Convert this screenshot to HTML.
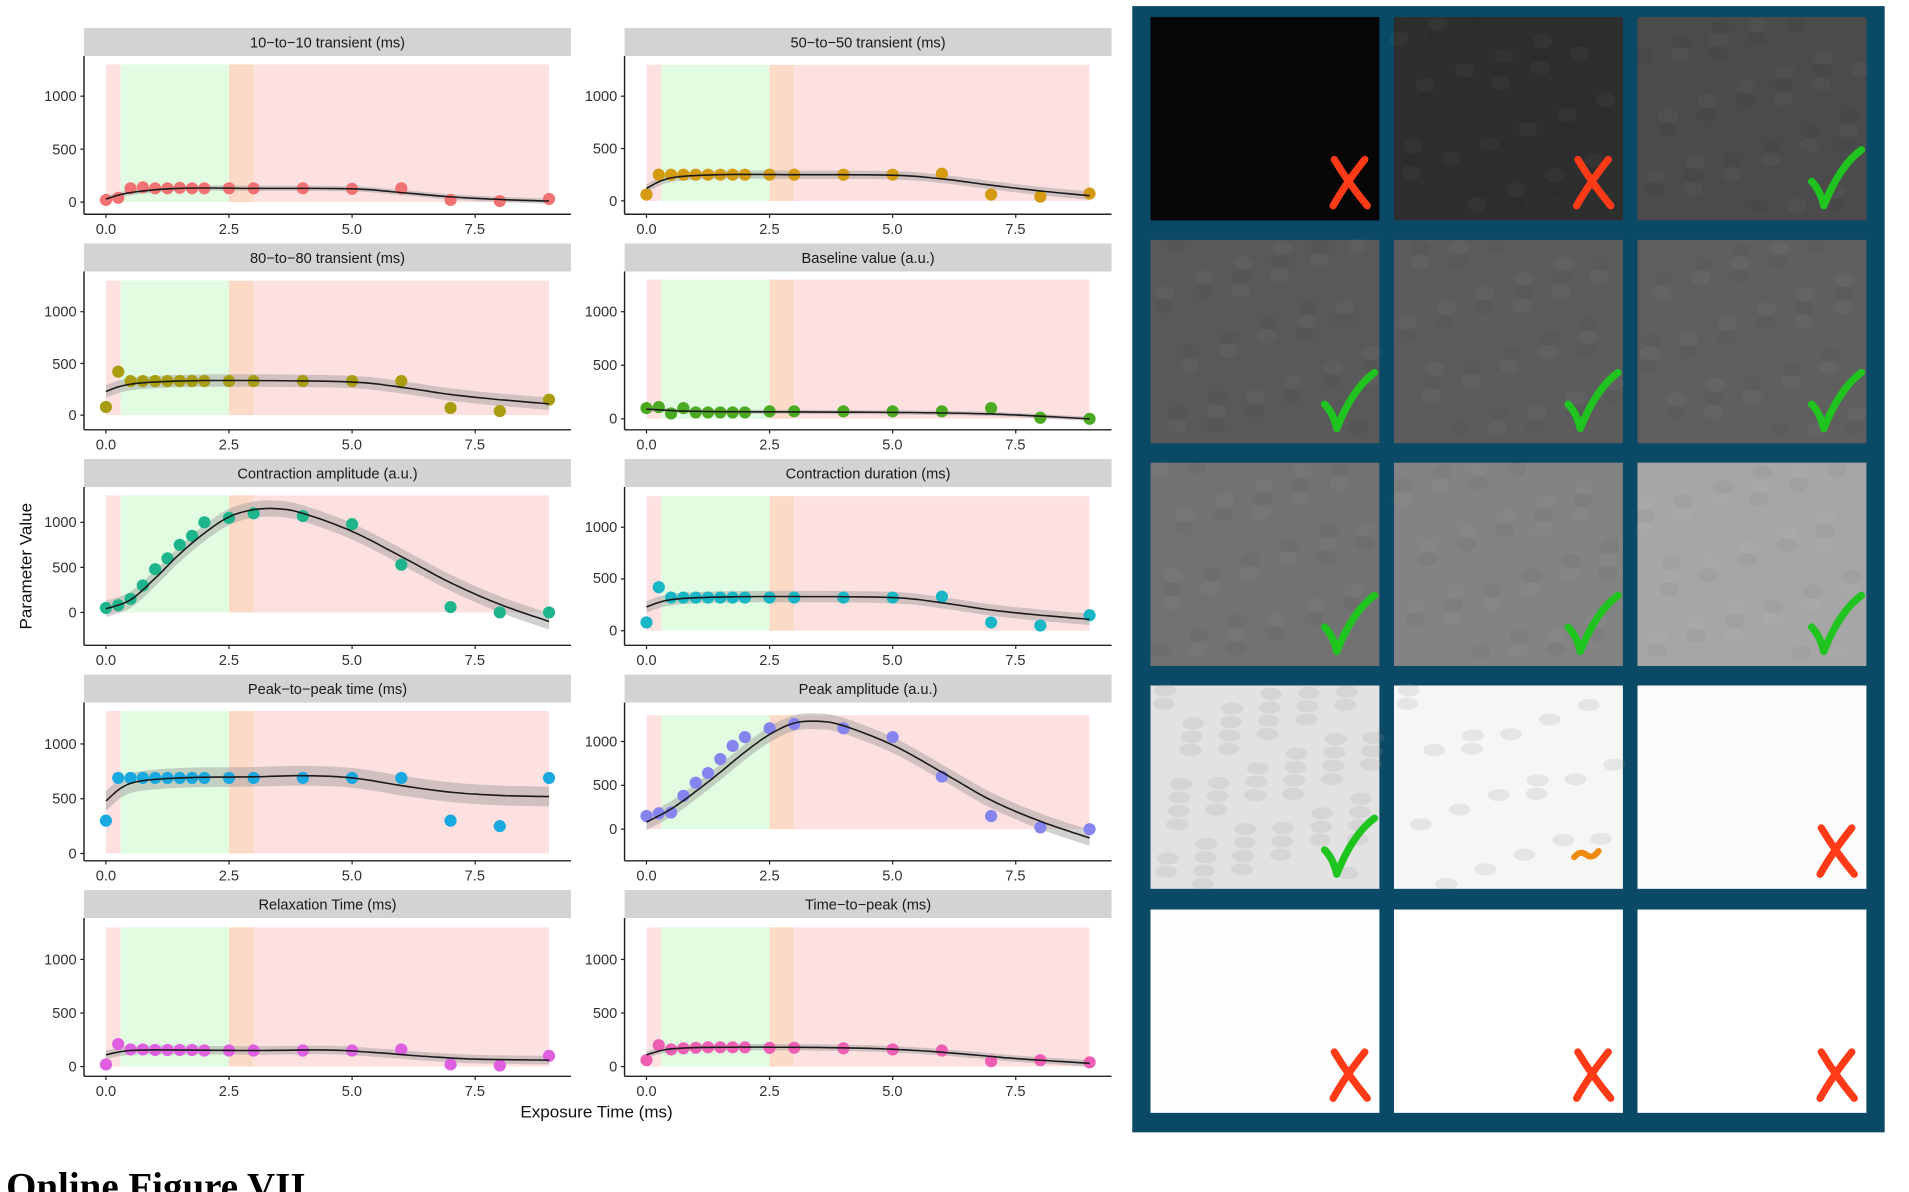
<!DOCTYPE html>
<html><head><meta charset="utf-8"><style>
html,body{margin:0;padding:0;background:#fff;}
svg{display:block;}
text{font-family:"Liberation Sans",Arial,sans-serif;}
</style></head><body>
<svg id="s" width="1909" height="1192" viewBox="0 0 1568 979" preserveAspectRatio="none" xmlns="http://www.w3.org/2000/svg">
<rect width="1568" height="979" fill="#fff"/>
<g id="plots"></g>
<g font-size="12" fill="#222">
<g text-anchor="middle" fill="#1a1a1a">
<text x="269" y="39">10−to−10 transient (ms)</text>
<text x="713" y="39">50−to−50 transient (ms)</text>
<text x="269" y="216">80−to−80 transient (ms)</text>
<text x="713" y="216">Baseline value (a.u.)</text>
<text x="269" y="393">Contraction amplitude (a.u.)</text>
<text x="713" y="393">Contraction duration (ms)</text>
<text x="269" y="570">Peak−to−peak time (ms)</text>
<text x="713" y="570">Peak amplitude (a.u.)</text>
<text x="269" y="747">Relaxation Time (ms)</text>
<text x="713" y="747">Time−to−peak (ms)</text>
</g>
<g text-anchor="end" fill="#333">
<text x="63" y="83">1000</text><text x="63" y="127">500</text><text x="63" y="170">0</text>
<text x="507" y="83">1000</text><text x="507" y="126">500</text><text x="507" y="169">0</text>
<text x="63" y="260">1000</text><text x="63" y="303">500</text><text x="63" y="345">0</text>
<text x="507" y="260">1000</text><text x="507" y="304">500</text><text x="507" y="348">0</text>
<text x="63" y="433">1000</text><text x="63" y="470">500</text><text x="63" y="507">0</text>
<text x="507" y="437">1000</text><text x="507" y="479">500</text><text x="507" y="522">0</text>
<text x="63" y="615">1000</text><text x="63" y="660">500</text><text x="63" y="705">0</text>
<text x="507" y="613">1000</text><text x="507" y="649">500</text><text x="507" y="685">0</text>
<text x="63" y="792">1000</text><text x="63" y="836">500</text><text x="63" y="880">0</text>
<text x="507" y="792">1000</text><text x="507" y="836">500</text><text x="507" y="880">0</text>
</g>
<g text-anchor="middle" fill="#333">
<text x="87" y="192">0.0</text><text x="188" y="192">2.5</text><text x="289" y="192">5.0</text><text x="390" y="192">7.5</text>
<text x="531" y="192">0.0</text><text x="632" y="192">2.5</text><text x="733" y="192">5.0</text><text x="834" y="192">7.5</text>
<text x="87" y="369">0.0</text><text x="188" y="369">2.5</text><text x="289" y="369">5.0</text><text x="390" y="369">7.5</text>
<text x="531" y="369">0.0</text><text x="632" y="369">2.5</text><text x="733" y="369">5.0</text><text x="834" y="369">7.5</text>
<text x="87" y="546">0.0</text><text x="188" y="546">2.5</text><text x="289" y="546">5.0</text><text x="390" y="546">7.5</text>
<text x="531" y="546">0.0</text><text x="632" y="546">2.5</text><text x="733" y="546">5.0</text><text x="834" y="546">7.5</text>
<text x="87" y="723">0.0</text><text x="188" y="723">2.5</text><text x="289" y="723">5.0</text><text x="390" y="723">7.5</text>
<text x="531" y="723">0.0</text><text x="632" y="723">2.5</text><text x="733" y="723">5.0</text><text x="834" y="723">7.5</text>
<text x="87" y="900">0.0</text><text x="188" y="900">2.5</text><text x="289" y="900">5.0</text><text x="390" y="900">7.5</text>
<text x="531" y="900">0.0</text><text x="632" y="900">2.5</text><text x="733" y="900">5.0</text><text x="834" y="900">7.5</text>
</g>
</g>
<text x="490" y="918" font-size="14" text-anchor="middle" fill="#111">Exposure Time (ms)</text>
<text transform="translate(26,465) rotate(-90)" font-size="14" text-anchor="middle" fill="#111">Parameter Value</text>
<text x="5" y="985" font-size="32" font-weight="bold" style="font-family:'Liberation Serif',serif" fill="#000">Online Figure VII</text>
<g id="right"></g>
</svg>
<script>
var NS="http://www.w3.org/2000/svg";
function el(p,t,a){var e=document.createElementNS(NS,t);for(var k in a)e.setAttribute(k,a[k]);p.appendChild(e);return e;}
var P=document.getElementById('plots');
var X=[0,0.25,0.5,0.75,1,1.25,1.5,1.75,2,2.5,3,4,5,6,7,8,9];
var panels=[
{c:0,r:0,y0:166,k:87,col:"#f07272",v:[20,40,130,140,130,130,135,130,130,130,130,130,125,130,20,10,30],cv:[[0,30],[0.5,90],[1.5,130],[3,130],[5,125],[6,90],[7,50],[8,25],[9,10]],b:25},
{c:1,r:0,y0:165,k:86,col:"#d39a12",v:[60,250,250,250,250,250,250,250,250,250,250,250,250,260,60,40,70],cv:[[0,120],[0.5,220],[1.5,250],[3,250],[5,245],[6,210],[7,150],[8,95],[9,50]],b:40},
{c:0,r:1,y0:341,k:85,col:"#a89c10",v:[80,420,330,330,330,330,330,330,330,330,330,330,330,330,70,40,150],cv:[[0,230],[0.5,300],[1.5,330],[3,335],[5,320],[6,270],[7,200],[8,150],[9,110]],b:60},
{c:1,r:1,y0:344,k:88,col:"#4caa22",v:[100,110,50,100,60,60,60,60,60,70,70,70,70,70,100,10,0],cv:[[0,90],[1,70],[3,65],[5,60],[6,55],[7,45],[8,25],[9,0]],b:20},
{c:0,r:2,y0:503,k:74,col:"#1fb58c",v:[50,80,150,300,480,600,750,850,1000,1050,1100,1070,980,530,60,0,0],cv:[[0,40],[0.5,140],[1,380],[1.5,650],[2,880],[2.5,1060],[3,1140],[3.5,1150],[4,1100],[5,900],[6,620],[7,330],[8,90],[9,-100]],b:90},
{c:1,r:2,y0:518,k:85,col:"#19b6c6",v:[80,420,320,320,320,320,320,320,320,320,320,320,320,330,80,50,150],cv:[[0,230],[0.5,300],[1.5,325],[3,330],[5,320],[6,270],[7,200],[8,150],[9,110]],b:55},
{c:0,r:3,y0:701,k:90,col:"#1aa8e0",v:[300,690,690,690,690,690,690,690,690,690,690,690,690,690,300,250,690],cv:[[0,480],[0.5,640],[1.5,690],[3,700],[4,710],[5,690],[6,620],[7,560],[8,530],[9,520]],b:90},
{c:1,r:3,y0:681,k:72,col:"#8684ee",v:[150,180,190,380,530,640,800,950,1050,1150,1200,1150,1050,600,150,20,0],cv:[[0,80],[0.5,230],[1,430],[1.5,650],[2,880],[2.5,1080],[3,1210],[3.5,1230],[4,1180],[5,960],[6,650],[7,330],[8,90],[9,-100]],b:90},
{c:0,r:4,y0:876,k:88,col:"#de5fe0",v:[20,210,160,160,155,155,155,155,150,150,150,150,150,160,20,10,100],cv:[[0,110],[0.5,150],[1.5,155],[3,150],[4.5,155],[5.5,130],[6.5,95],[7.5,70],[9,60]],b:40},
{c:1,r:4,y0:876,k:88,col:"#ee5fb4",v:[60,200,160,170,175,180,180,180,180,175,175,170,160,150,50,60,40],cv:[[0,110],[0.5,165],[1.5,180],[3,180],[4.5,170],[5.5,150],[6.5,115],[7.5,75],[9,30]],b:30}
];
function cr(pts,n){var out=[];for(var i=0;i<pts.length-1;i++){var p0=pts[Math.max(0,i-1)],p1=pts[i],p2=pts[i+1],p3=pts[Math.min(pts.length-1,i+2)];
for(var j=0;j<n;j++){var t=j/n,t2=t*t,t3=t2*t;var f=function(a,b,c,d){return 0.5*((2*b)+(-a+c)*t+(2*a-5*b+4*c-d)*t2+(-a+3*b-3*c+d)*t3);};
out.push([f(p0[0],p1[0],p2[0],p3[0]),f(p0[1],p1[1],p2[1],p3[1])]);}}out.push(pts[pts.length-1]);return out;}
panels.forEach(function(p){
 var dx=p.c*444,dy=p.r*177;
 var g=el(P,'g',{});
 var xs=function(v){return dx+87+v*40.44;};
 var ys=function(v){return p.y0-v*p.k/1000;};
 el(g,'rect',{x:dx+69,y:dy+23,width:400,height:23,fill:"#d3d3d3"});
 var top=ys(1300),bot=ys(0);
 el(g,'rect',{x:xs(0),y:top,width:xs(0.3)-xs(0),height:bot-top,fill:"#fde1e1"});
 el(g,'rect',{x:xs(0.3),y:top,width:xs(2.5)-xs(0.3),height:bot-top,fill:"#e2fce2"});
 el(g,'rect',{x:xs(2.5),y:top,width:xs(3)-xs(2.5),height:bot-top,fill:"#fcdac8"});
 el(g,'rect',{x:xs(3),y:top,width:xs(9)-xs(3),height:bot-top,fill:"#fde1e1"});
 var c=cr(p.cv,10);
 var up=c.map(function(q){return xs(q[0]).toFixed(1)+","+ys(q[1]+p.b).toFixed(1);});
 var dn=c.slice().reverse().map(function(q){return xs(q[0]).toFixed(1)+","+ys(q[1]-p.b).toFixed(1);});
 el(g,'polygon',{points:up.concat(dn).join(" "),fill:"#9a9a9a","fill-opacity":0.45});
 p.v.forEach(function(v,i){el(g,'circle',{cx:xs(X[i]),cy:ys(v),r:5,fill:p.col});});
 el(g,'polyline',{points:c.map(function(q){return xs(q[0]).toFixed(1)+","+ys(q[1]).toFixed(1);}).join(" "),fill:"none",stroke:"#1a1a1a","stroke-width":1.3});
 var ay=dy+176;
 el(g,'line',{x1:dx+69,y1:dy+46,x2:dx+69,y2:ay,stroke:"#222","stroke-width":1.2});
 el(g,'line',{x1:dx+69,y1:ay,x2:dx+469,y2:ay,stroke:"#222","stroke-width":1.2});
 [0,2.5,5,7.5].forEach(function(t){el(g,'line',{x1:xs(t),y1:ay,x2:xs(t),y2:ay+3,stroke:"#222"});});
 [0,500,1000].forEach(function(t){el(g,'line',{x1:dx+66,y1:ys(t),x2:dx+69,y2:ys(t),stroke:"#222"});});
});
var R=document.getElementById('right');
el(R,'rect',{x:930,y:5,width:618,height:925,fill:"#0b4a66"});
var cx=[945,1145,1345],cy=[14,197,380,563,747];
var fills=[["#060606","#2e2e2e","#4b4b4b"],["#595959","#5c5c5c","#5f5f5f"],["#727272","#838383","#a6a6a6"],["#e2e2e2","#f6f6f6","#fcfcfc"],["#fefefe","#ffffff","#ffffff"]];
var marks=[["x","x","v"],["v","v","v"],["v","v","v"],["v","o","x"],["x","x","x"]];
for(var r=0;r<5;r++)for(var c2=0;c2<3;c2++){
 var x0=cx[c2],y0=cy[r],w=188,h=167;
 el(R,'rect',{x:x0,y:y0,width:w,height:h,fill:fills[r][c2]});
 if(r>0&&r<3||(r==0&&c2>0)){for(var i=0;i<40;i++){var rx=x0+((i*53+r*17+c2*31)%180)+4,ry=y0+((i*37+c2*13)%160)+4;
  el(R,'ellipse',{cx:rx,cy:ry,rx:8,ry:6,fill:(i%2?"#fff":"#000"),"fill-opacity":0.03});}}
 if(r==3&&c2<2){for(var i=0;i<(c2==0?60:20);i++){var rx=x0+((i*53+7)%180)+4,ry=y0+((i*37+11)%160)+4;
  el(R,'ellipse',{cx:rx,cy:ry,rx:9,ry:5,fill:"#9a9a9a","fill-opacity":0.18});}}
 var m=marks[r][c2],R2=x0+w,B=y0+h;
 if(m=="x"){el(R,'path',{d:"M"+(R2-37)+" "+(B-50)+" Q"+(R2-25)+" "+(B-30)+" "+(R2-10)+" "+(B-12)+" M"+(R2-12)+" "+(B-50)+" Q"+(R2-28)+" "+(B-30)+" "+(R2-38)+" "+(B-12),stroke:"#ff3a17","stroke-width":6,fill:"none","stroke-linecap":"round"});}
 if(m=="v"){el(R,'path',{d:"M"+(R2-45)+" "+(B-32)+" Q"+(R2-38)+" "+(B-25)+" "+(R2-35)+" "+(B-12)+" Q"+(R2-22)+" "+(B-45)+" "+(R2-4)+" "+(B-58),stroke:"#1fc41f","stroke-width":6,fill:"none","stroke-linecap":"round","stroke-linejoin":"round"});}
 if(m=="o"){el(R,'path',{d:"M"+(R2-40)+" "+(B-26)+" q5 -6 10 -2 t10 -3",stroke:"#ee8a10","stroke-width":5,fill:"none","stroke-linecap":"round"});}
}
</script>
</body></html>
